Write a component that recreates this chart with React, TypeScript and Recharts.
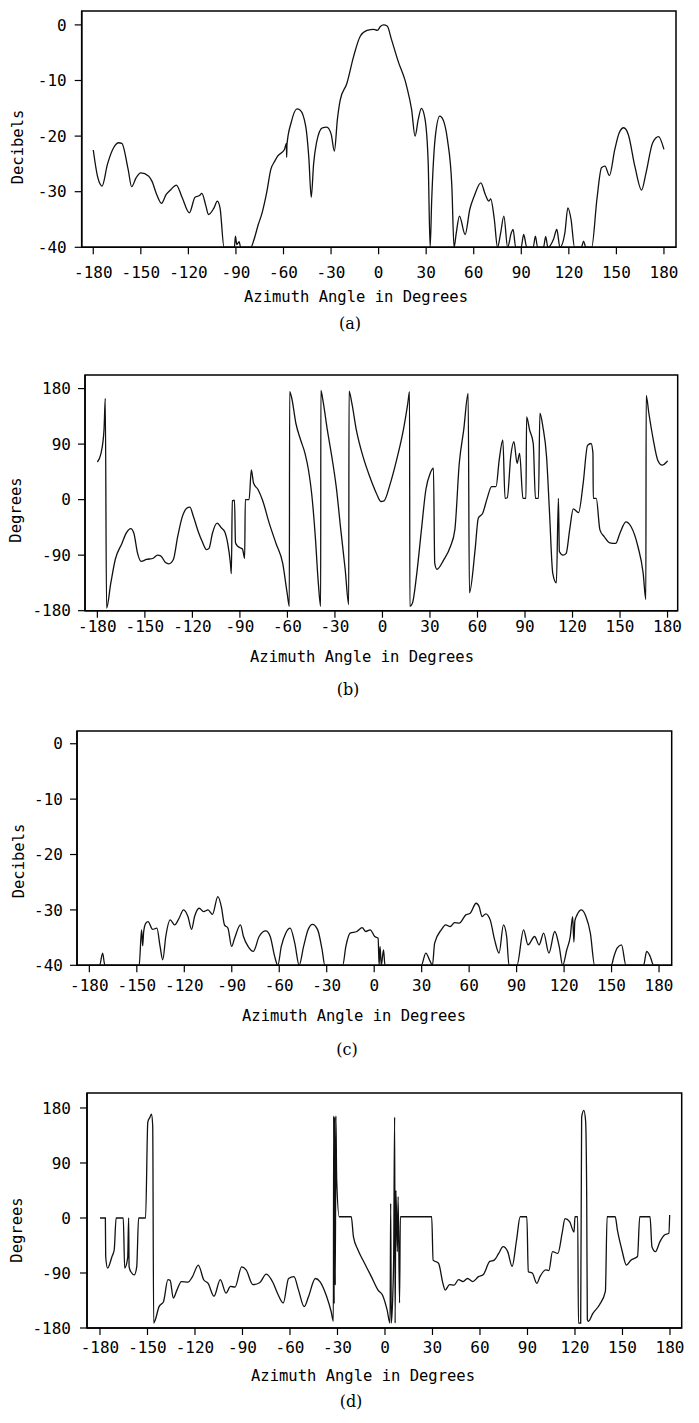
import React from 'react';
import { LineChart, Line, XAxis, YAxis, ReferenceArea } from 'recharts';

// tick values shared by all four plots
const angleTicks = [-180, -150, -120, -90, -60, -30, 0, 30, 60, 90, 120, 150, 180];
const dbTicks = [0, -10, -20, -30, -40];
const phaseTicks = [180, 90, 0, -90, -180];

// (a) amplitude, dB
const angA = [
  -180, -177.5, -175.5, -174.5, -171, -167, -164, -162, -158, -155.8,
  -153, -150, -145, -143, -140, -137, -134, -131, -127.6, -124,
  -119.4, -115.8, -113, -111.5, -109, -107.3, -104, -101.7, -100, -97.5,
  -91, -90.3, -89.5, -88, -87, -80.6, -78.6, -76, -73.5, -70.5,
  -68, -65.5, -63.7, -59.4, -58.2, -58, -57.8, -55.2, -51.5, -49.6,
  -46, -44, -42.5, -41, -39.2, -35.5, -32.7, -29.9, -27.9, -26,
  -24.2, -20, -15.8, -11.5, -7.3, -3, -0.8, 1.1, 3.1, 5.4,
  8.2, 12.4, 16.6, 18, 20.8, 23, 25, 27, 29.3, 31.3,
  32.5, 33.5, 35.8, 38.6, 40.6, 43.4, 46.2, 47.6, 49, 51,
  54.6, 57.5, 60.3, 64.5, 67.3, 69.6, 70.7, 73, 75, 77,
  79, 81.4, 83.7, 84.8, 86.5, 89.9, 91.5, 93.5, 97.5, 98.9,
  100.3, 104, 105.4, 106.8, 110.4, 112.4, 114.4, 117.5, 119.4, 121.4,
  123.6, 127.9, 129.3, 130.7, 134.4, 137.7, 140.6, 142.8, 145.6, 149,
  151.8, 154.6, 157.5, 161.7, 165.9, 168.7, 172.9, 176.6, 180,
];
const dbA = [
  -22.5, -27, -28.7, -29, -25, -22, -21.2, -21.3, -26, -29.1,
  -27.5, -26.6, -27.2, -28.1, -30.5, -32.1, -30.5, -29.6, -28.8, -31,
  -33.8, -31, -30.7, -30.3, -32.5, -34.1, -33, -31.7, -33, -40,
  -40, -38, -39.5, -39, -40, -40, -38.6, -36, -33.8, -30,
  -26, -24.5, -23.6, -22.4, -21.3, -23.8, -21.5, -17.6, -15.1, -15.3,
  -18.2, -24, -31, -25, -21.2, -18.5, -18.4, -19.7, -22.7, -17,
  -13.5, -10.5, -5.7, -2, -1, -0.8, -1, -0.3, 0, -0.2,
  -2.7, -6.6, -9.9, -11.4, -15.2, -20, -17, -15, -17, -25,
  -40, -31.4, -20, -16.4, -17, -20.6, -29, -40, -37.4, -34.4,
  -37.7, -33.2, -30.8, -28.4, -30.5, -31.7, -31.3, -35, -40, -37.4,
  -34.4, -40, -37.4, -36.8, -40, -40, -37.7, -40, -40, -38,
  -40, -40, -38.1, -40, -38.5, -36.8, -40, -37.4, -32.9, -35,
  -40, -40, -38.9, -40, -40, -31.4, -25.7, -25.4, -27.1, -22.4,
  -19.4, -18.5, -19.7, -25.5, -29.7, -26.6, -21.2, -20.1, -22.4,
];

// (b) phase, degrees
const angB = [
  -180, -177.7, -175.8, -175, -174.2, -171.5, -168.7, -164.5, -161.7, -158.9,
  -157, -154.6, -152.4, -149, -144.8, -142, -140, -137, -134.9, -132,
  -129.3, -126.4, -123.6, -121.6, -119.4, -116, -113.8, -111, -109.5, -107.3,
  -104.4, -101.6, -99.6, -97.7, -96, -95.4, -94.8, -93.4, -92.8, -91.2,
  -88.4, -87, -86.6, -84.2, -82.8, -81.4, -78.5, -75.7, -71.5, -67.2,
  -63, -60.2, -58.8, -58.6, -57.4, -54.6, -51.7, -48.9, -46.7, -44.7,
  -42.4, -40.5, -39, -38.9, -37.6, -34.8, -32, -29.2, -26.3, -23.5,
  -21.3, -21.1, -19.3, -16.5, -12.3, -8, -3.8, -1, 1, 4.7,
  8.9, 13.2, 16, 17.1, 17.3, 18.9, 21.7, 24.6, 27.4, 30.2,
  32.2, 33, 34.4, 38.6, 42.9, 45.7, 48.5, 51.3, 54.1, 54.9,
  58.5, 60.5, 63.3, 66.1, 68.9, 71.7, 73.7, 76, 77.4, 78.8,
  81, 83, 85, 86.6, 88.7, 90.6, 91, 92.9, 95.2, 96.6,
  98.5, 99.4, 101.3, 103.6, 105.5, 107.5, 109.8, 111.1, 111.7, 114,
  116, 118.2, 120.5, 123.8, 126.7, 129.5, 131.7, 132.9, 133.1, 135,
  137.3, 140, 143.5, 147.2, 150, 153.7, 157, 161.3, 164.6, 166.3,
  166.5, 168.2, 171, 173.8, 176.6, 179.4, 180,
];
const phB = [
  61, 75, 113, 164, -176, -135, -97, -71, -54, -47,
  -54, -87, -100, -97, -95, -90, -91, -102, -104, -97,
  -60, -28, -14, -12, -27, -54, -68, -81, -79, -54,
  -38, -46, -52, -71, -103, -120, -2, -1, -70, -76,
  -80, -95, 0, 0, 48, 27, 16, -1, -38, -71,
  -103, -151, -173, 175, 166, 123, 97, 75, 48, 10,
  -60, -135, -173, 177, 161, 113, 70, 21, -49, -114,
  -170, 176, 156, 113, 70, 37, 10, -3, -2, 24,
  64, 113, 156, 175, -173, -168, -119, -49, 16, 43,
  51, -103, -113, -98, -76, -49, 59, 113, 172, -151,
  -81, -30, -22, 2, 21, 21, 64, 97, 2, 3,
  70, 94, 59, 75, 2, 2, 134, 113, 91, 2,
  2, 140, 118, 70, -22, -119, -135, 2, -84, -90,
  -87, -49, -15, -21, 26, 88, 91, 75, 2, 2,
  -49, -60, -70, -71, -54, -36, -44, -76, -119, -162,
  169, 140, 97, 64, 56, 61, 63,
];

// (c) amplitude, dB
const angC = [
  -180, -173.5, -171.6, -170.2, -148.5, -147, -146.3, -145.7, -144.3, -142.9,
  -140, -137.3, -135.3, -133.6, -131.7, -128.9, -126.1, -123.3, -120.5, -117.7,
  -115.4, -113.5, -110.6, -107.8, -105, -102.2, -98.8, -96.6, -94.6, -92.4,
  -90.1, -88.2, -84.5, -82.6, -79.7, -76.4, -72.7, -68.5, -65.7, -62.9,
  -60.9, -58.7, -55.9, -53.1, -50.2, -47.4, -44.6, -41.8, -39, -35.7,
  -32.9, -31.2, -19.9, -17.9, -15.2, -11, -7.6, -5.3, -2.5, 0.3,
  2.5, 3.1, 3.7, 4.5, 5.9, 6.8, 29.8, 32.6, 35.4, 36.8,
  38.2, 42.4, 45.2, 48, 50.8, 53.7, 57.9, 60.7, 64.4, 66.3,
  68.2, 70.5, 73.3, 76.1, 78.9, 81.7, 83.7, 85.2, 90.2, 94.4,
  97.2, 101.4, 104.2, 107.1, 110.4, 114.1, 116.9, 119.1, 121.7, 123.9,
  125.4, 126.2, 126.8, 128.2, 131, 133.8, 136.6, 139.3, 149.8, 151.5,
  153.5, 156.3, 159.1, 170.2, 172.2, 174.4, 176.6, 180,
];
const dbC = [
  -40, -40, -37.8, -40, -40, -33.6, -36.5, -34, -32.4, -32.1,
  -33.5, -33.3, -36.6, -39, -34.8, -31.8, -32.7, -31.5, -30, -31.2,
  -33.5, -31.2, -29.7, -30.3, -30, -30.8, -27.6, -29.4, -32.7, -33.3,
  -36.6, -35.1, -32.7, -34.8, -36.6, -37.5, -34.8, -33.8, -34.8, -38.4,
  -40, -36.6, -34.2, -33.3, -36, -40, -36.6, -33.6, -32.6, -33.6,
  -37.2, -40, -40, -36.6, -34.2, -33.9, -33.2, -33.9, -33.6, -34.8,
  -35.1, -40, -36.6, -40, -37.2, -40, -40, -37.8, -39.3, -40,
  -36, -33.6, -32.7, -33, -32.3, -32.4, -30.9, -30.6, -28.8, -29.4,
  -31.2, -30.7, -31.8, -35.4, -37.8, -32.7, -34.8, -40, -40, -33.6,
  -36.3, -34.8, -36.3, -34.2, -37.8, -33.9, -36.6, -40, -37.2, -34.8,
  -31.2, -35.8, -32, -30.9, -30, -31.2, -34.2, -40, -40, -38.4,
  -36.9, -36.3, -40, -40, -37.5, -38.4, -40, -40,
];

// (d) phase, degrees
const angD = [
  -180, -176.6, -176.4, -175.2, -172.4, -171, -169.8, -165.3, -164.4, -162.5,
  -161.9, -161.6, -160.5, -158.3, -156.8, -155.6, -151.2, -149.8, -148.4, -147.5,
  -146.7, -146.1, -145, -142.7, -139.9, -137.1, -135.7, -133.7, -131.4, -128.6,
  -124.4, -121.6, -117.9, -114.5, -111.7, -108, -104, -100.4, -97.6, -94.7,
  -90.5, -87.7, -83.4, -79.2, -75, -70.7, -67.9, -64.2, -60.9, -57.5,
  -54.6, -51, -48.2, -44, -41.1, -36.9, -34, -32.6, -32.4, -32.1,
  -31.8, -31.4, -31, -30.5, -28.9, -21.3, -19.9, -17.1, -12.9, -8.6,
  -4.4, -1.6, 1.3, 3.2, 3.6, 4, 5, 5.5, 6.1, 6.4,
  6.9, 7.8, 8.3, 9.2, 9.7, 29.5, 30.4, 33.8, 36.6, 38,
  40.8, 43.6, 46.5, 49.3, 52.1, 55.5, 59.1, 62, 66.2, 69,
  71.8, 74.6, 77.5, 80.3, 83.1, 85.4, 89.6, 90.5, 93, 95.9,
  97.9, 101.5, 103.5, 105.8, 109.2, 112, 113.7, 116.6, 119.4, 120,
  121.7, 122.2, 123.6, 124.2, 125.6, 126.7, 127.4, 127.8, 128.5, 131.3,
  135.5, 139.2, 140.3, 145.4, 146.8, 149.6, 152.5, 155.3, 159.5, 160.9,
  167.4, 168.6, 170.8, 173.6, 176.5, 179.3, 179.8,
];
const phD = [
  0, 0, -63, -82, -63, -52, 0, 0, -82, -65,
  0, -80, -88, -93, -80, 0, 0, 157, 165, 170,
  151, -172, -166, -145, -137, -101, -102, -131, -118, -104,
  -105, -96, -77, -101, -107, -128, -101, -123, -112, -113,
  -80, -85, -109, -106, -92, -106, -123, -139, -99, -96,
  -118, -145, -128, -99, -104, -128, -153, -169, 167, -140,
  165, -110, 167, 62, 2, 2, -31, -52, -74, -96,
  -118, -126, -150, -172, 24, -172, -120, -60, 165, -172,
  45, -55, 35, -139, 2, 2, -69, -74, -107, -118,
  -109, -110, -101, -104, -99, -104, -96, -93, -71, -69,
  -58, -47, -55, -79, -36, 2, 2, -88, -90, -107,
  -96, -85, -86, -55, -58, -23, -1, -6, -23, 2,
  2, -172, -172, 165, 176, 159, 35, -166, -169, -156,
  -142, -120, 2, 2, -20, -52, -77, -69, -63, 2,
  2, -47, -55, -39, -28, -25, 5,
];

const mono = "'DejaVu Sans Mono', monospace";
const tickStyle = { fill: '#000', fontFamily: mono, fontSize: 16 };

type PanelProps = {
  left: number;
  right: number;
  top: number;
  bottom: number;
  xDomain: [number, number];
  yDomain: [number, number];
  yTicks: number[];
  xs: number[];
  ys: number[];
  xGap: number;
  yGap: number;
};

function Panel({ left, right, top, bottom, xDomain, yDomain, yTicks, xs, ys, xGap, yGap }: PanelProps) {
  const data = xs.map((x, i) => ({ x, y: ys[i] }));
  const padTop = 10;
  const axisH = 50;
  return (
    <div style={{ position: 'absolute', left: 0, top: top - padTop }}>
      <LineChart
        width={699}
        height={bottom - top + padTop + axisH}
        data={data}
        margin={{ top: padTop, right: 699 - right, bottom: 0, left: 0 }}
      >
        <XAxis
          type="number"
          dataKey="x"
          domain={xDomain}
          ticks={angleTicks}
          interval={0}
          allowDataOverflow
          height={axisH}
          tickSize={7}
          tickMargin={xGap}
          axisLine={{ stroke: '#000', strokeWidth: 1.5 }}
          tickLine={{ stroke: '#000', strokeWidth: 1.2 }}
          tick={tickStyle}
        />
        <YAxis
          type="number"
          domain={yDomain}
          ticks={yTicks}
          interval={0}
          allowDataOverflow
          width={left}
          tickSize={7}
          tickMargin={yGap}
          axisLine={{ stroke: '#000', strokeWidth: 1.5 }}
          tickLine={{ stroke: '#000', strokeWidth: 1.2 }}
          tick={tickStyle}
        />
        <ReferenceArea
          x1={xDomain[0]}
          x2={xDomain[1]}
          y1={yDomain[0]}
          y2={yDomain[1]}
          fill="none"
          stroke="#000"
          strokeWidth={1.5}
        />
        <Line
          type="monotone"
          dataKey="y"
          stroke="#111"
          strokeWidth={1.3}
          dot={false}
          isAnimationActive={false}
        />
      </LineChart>
    </div>
  );
}

function Label({ x, y, text, rotate, serif }: { x: number; y: number; text: string; rotate?: boolean; serif?: boolean }) {
  return (
    <div
      style={{
        position: 'absolute',
        left: x,
        top: y,
        transform: `translate(-50%, -50%)${rotate ? ' rotate(-90deg)' : ''}`,
        whiteSpace: 'nowrap',
        fontFamily: serif ? "'DejaVu Serif', serif" : mono,
        fontSize: serif ? 16 : 15.5,
        color: '#000',
        lineHeight: 1,
      }}
    >
      {text}
    </div>
  );
}

export default function App() {
  const xTitle = 'Azimuth Angle in Degrees';
  return (
    <div style={{ position: 'absolute', left: 0, top: 0, width: 699, height: 1423, background: '#fff' }}>
      <Panel left={81.7} right={676} top={11} bottom={247.3} xDomain={[-187.3, 187.6]} yDomain={[-40, 2.5]}
        yTicks={dbTicks} xs={angA} ys={dbA} xGap={12} yGap={8} />
      <Label x={18.7} y={146.5} text="Decibels" rotate />
      <Label x={356} y={298} text={xTitle} />
      <Label x={350} y={324} text="(a)" serif />

      <Panel left={85} right={677.7} top={375} bottom={610.7} xDomain={[-187.8, 186.4]} yDomain={[-180, 202]}
        yTicks={phaseTicks} xs={angB} ys={phB} xGap={3} yGap={7} />
      <Label x={17} y={510} text="Degrees" rotate />
      <Label x={362} y={658} text={xTitle} />
      <Label x={348} y={690} text="(b)" serif />

      <Panel left={77} right={671.7} top={730.7} bottom={965} xDomain={[-187.8, 188]} yDomain={[-40, 2.3]}
        yTicks={dbTicks} xs={angC} ys={dbC} xGap={7} yGap={7} />
      <Label x={20} y={861} text="Decibels" rotate />
      <Label x={354} y={1017} text={xTitle} />
      <Label x={347} y={1050} text="(c)" serif />

      <Panel left={87} right={681.7} top={1093.3} bottom={1328.3} xDomain={[-188.2, 187.4]} yDomain={[-180, 204.5]}
        yTicks={phaseTicks} xs={angD} ys={phD} xGap={7} yGap={9} />
      <Label x={18.2} y={1230} text="Degrees" rotate />
      <Label x={363} y={1377} text={xTitle} />
      <Label x={351} y={1402} text="(d)" serif />
    </div>
  );
}
